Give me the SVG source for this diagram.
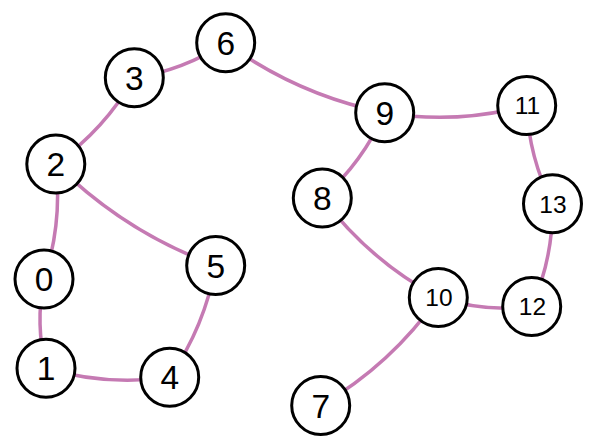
<svg xmlns="http://www.w3.org/2000/svg" width="595" height="448" viewBox="0 0 595 448">
<style>
.e{fill:none;stroke:#c57ab3;stroke-width:3.5}
.n circle{fill:#fff;stroke:#000;stroke-width:3}
.n text{font-family:"Liberation Sans",Arial,sans-serif;text-anchor:middle;fill:#000}
.s{font-size:33.5px}
.d{font-size:24.5px}
</style>
<rect width="595" height="448" fill="#fff"/>
<g id="edges">
<path class="e" d="M44,279 Q35.1,323.9 46,368.3"/>
<path class="e" d="M44,279 Q62.6,223 55.8,164"/>
<path class="e" d="M46,368.3 Q106.8,386.5 169.7,377.2"/>
<path class="e" d="M55.8,164 Q104.6,129.5 134.3,77.7"/>
<path class="e" d="M55.8,164 Q124.6,232.4 215.7,265.5"/>
<path class="e" d="M169.7,377.2 Q204.7,326.5 215.7,265.5"/>
<path class="e" d="M134.3,77.7 Q183.8,70.1 225.7,42.7"/>
<path class="e" d="M225.7,42.7 Q297.5,95.2 384.7,112.7"/>
<path class="e" d="M322.3,198 Q362.7,162 384.7,112.7"/>
<path class="e" d="M384.7,112.7 Q456.5,124.7 526.7,105.5"/>
<path class="e" d="M322.3,198 Q369.2,260.3 438.3,297.5"/>
<path class="e" d="M320.7,405.5 Q391.4,364.5 438.3,297.5"/>
<path class="e" d="M438.3,297.5 Q484,312.3 531.7,306.5"/>
<path class="e" d="M526.7,105.5 Q528.8,157.5 552.5,203.8"/>
<path class="e" d="M531.7,306.5 Q553.4,257.5 552.5,203.8"/>
</g>
<g id="node0" class="n"><circle cx="44" cy="279" r="29"/><text class="s" x="44" y="291">0</text></g>
<g id="node1" class="n"><circle cx="46" cy="368.3" r="29"/><text class="s" x="46" y="380.3">1</text></g>
<g id="node2" class="n"><circle cx="55.8" cy="164" r="29"/><text class="s" x="55.8" y="176">2</text></g>
<g id="node3" class="n"><circle cx="134.3" cy="77.7" r="29"/><text class="s" x="134.3" y="89.7">3</text></g>
<g id="node4" class="n"><circle cx="169.7" cy="377.2" r="29"/><text class="s" x="169.7" y="389.2">4</text></g>
<g id="node5" class="n"><circle cx="215.7" cy="265.5" r="29"/><text class="s" x="215.7" y="277.5">5</text></g>
<g id="node6" class="n"><circle cx="225.7" cy="42.7" r="29"/><text class="s" x="225.7" y="54.7">6</text></g>
<g id="node7" class="n"><circle cx="320.7" cy="405.5" r="29"/><text class="s" x="320.7" y="417.5">7</text></g>
<g id="node8" class="n"><circle cx="322.3" cy="198" r="29"/><text class="s" x="322.3" y="210">8</text></g>
<g id="node9" class="n"><circle cx="384.7" cy="112.7" r="29"/><text class="s" x="384.7" y="124.7">9</text></g>
<g id="node10" class="n"><circle cx="438.3" cy="297.5" r="29"/><text class="d" x="439" y="306.2">10</text></g>
<g id="node11" class="n"><circle cx="526.7" cy="105.5" r="29"/><text class="d" x="527.5" y="114.2">11</text></g>
<g id="node12" class="n"><circle cx="531.7" cy="306.5" r="29"/><text class="d" x="532.5" y="315.2">12</text></g>
<g id="node13" class="n"><circle cx="552.5" cy="203.8" r="29"/><text class="d" x="553" y="212.5">13</text></g>
</svg>
